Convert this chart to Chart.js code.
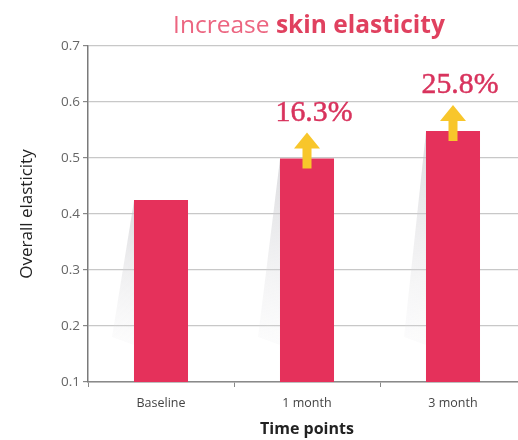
<!DOCTYPE html>
<html>
<head>
<meta charset="utf-8">
<script src="https://cdn.jsdelivr.net/npm/chart.js@4.4.1/dist/chart.umd.min.js"></script>
<style>
  html, body { margin: 0; padding: 0; background: #fff; overflow: hidden; }
  #wrap { width: 518px; height: 440px; position: relative; overflow: hidden; }
  #c { position: absolute; left: 0; top: 0; }
</style>
</head>
<body>
<div id="wrap"><canvas id="c" width="526" height="440"></canvas></div>
<script>
// ---- data ----
const categories = ["Baseline", "1 month", "3 month"];
const elasticity = [0.425, 0.499, 0.548];
const increaseLabels = [null, "16.3%", "25.8%"];
const yTicks = [0.1, 0.2, 0.3, 0.4, 0.5, 0.6, 0.7];
const titleNormal = "Increase ";
const titleBold = "skin elasticity";
const yTitle = "Overall elasticity";
const xTitle = "Time points";

const BAR = "#e5315b";
const FONT = "'Open Sans', 'Noto Sans', sans-serif";
const SERIF = "'Liberation Serif', 'DejaVu Serif', serif";

const decorPlugin = {
  id: "decor",
  beforeDatasetsDraw(chart) {
    const ctx = chart.ctx;
    const meta = chart.getDatasetMeta(0);
    const bottom = chart.chartArea.bottom;
    ctx.save();
    meta.data.forEach(bar => {
      const left = bar.x - bar.width / 2;
      const top = bar.y;
      const endY = bottom - 45;
      const g = ctx.createLinearGradient(left, top, left - 22, endY);
      g.addColorStop(0, "rgba(195,195,200,0.6)");
      g.addColorStop(1, "rgba(225,225,228,0.12)");
      ctx.fillStyle = g;
      ctx.beginPath();
      ctx.moveTo(left, top + 1);
      ctx.lineTo(left - 22, endY);
      ctx.lineTo(left, endY + 8);
      ctx.closePath();
      ctx.fill();
    });
    ctx.restore();
  },
  afterDatasetsDraw(chart) {
    const ctx = chart.ctx;
    const meta = chart.getDatasetMeta(0);
    ctx.save();
    // size the percentage font to the width seen in the picture (~77px for "16.3%")
    ctx.font = `26px ${SERIF}`;
    const ref = ctx.measureText("16.3%").width;
    const pSize = Math.min(30, 26 * 77 / ref);
    meta.data.forEach((bar, i) => {
      const lab = increaseLabels[i];
      if (!lab) return;
      const cx = bar.x;
      const top = bar.y;
      // arrow
      ctx.fillStyle = "#f8c62b";
      ctx.beginPath();
      ctx.moveTo(cx, top - 26);
      ctx.lineTo(cx + 13, top - 10);
      ctx.lineTo(cx + 4.5, top - 10);
      ctx.lineTo(cx + 4.5, top + 10);
      ctx.lineTo(cx - 4.5, top + 10);
      ctx.lineTo(cx - 4.5, top - 10);
      ctx.lineTo(cx - 13, top - 10);
      ctx.closePath();
      ctx.fill();
      // label
      ctx.fillStyle = "#d8335d";
      ctx.strokeStyle = "#d8335d";
      ctx.lineWidth = 0.5;
      ctx.font = `${pSize}px ${SERIF}`;
      ctx.textAlign = "center";
      ctx.textBaseline = "alphabetic";
      ctx.fillText(lab, cx + 7, top - 38);
      ctx.strokeText(lab, cx + 7, top - 38);
    });
    ctx.restore();
  },
  afterDraw(chart) {
    const ctx = chart.ctx;
    ctx.save();
    const targetW = 272;
    let size = 22;
    ctx.font = `400 ${size}px ${FONT}`;
    let w1 = ctx.measureText(titleNormal).width;
    ctx.font = `700 ${size}px ${FONT}`;
    let w2 = ctx.measureText(titleBold).width;
    size = size * targetW / (w1 + w2);
    ctx.font = `400 ${size}px ${FONT}`;
    w1 = ctx.measureText(titleNormal).width;
    ctx.font = `700 ${size}px ${FONT}`;
    w2 = ctx.measureText(titleBold).width;
    const x0 = 309 - (w1 + w2) / 2;
    ctx.textBaseline = "alphabetic";
    ctx.textAlign = "left";
    ctx.font = `400 ${size}px ${FONT}`;
    ctx.fillStyle = "#ec6580";
    ctx.fillText(titleNormal, x0, 33);
    ctx.font = `700 ${size}px ${FONT}`;
    ctx.fillStyle = "#e0415f";
    ctx.fillText(titleBold, x0 + w1, 33);
    ctx.restore();
  }
};

new Chart(document.getElementById("c"), {
  type: "bar",
  data: {
    labels: categories,
    datasets: [{
      data: elasticity,
      backgroundColor: BAR,
      borderWidth: 0,
      barPercentage: 0.37,
      categoryPercentage: 1.0
    }]
  },
  options: {
    responsive: false,
    animation: false,
    devicePixelRatio: 1,
    layout: { padding: { top: 46, right: 0, left: 0, bottom: 0 } },
    plugins: { legend: { display: false }, tooltip: { enabled: false } },
    scales: {
      x: {
        offset: true,
        grid: { display: true, drawOnChartArea: false, drawTicks: true, tickLength: 5, color: "#888", lineWidth: 1 },
        border: { display: true, color: "#8a8a8a", width: 1.5 },
        ticks: { color: "#444", font: { family: FONT, size: 12.5 }, padding: 9 },
        title: { display: true, text: xTitle, color: "#222", font: { family: FONT, size: 16, weight: "bold" }, padding: { top: 2, bottom: 1 } },
        afterFit(s) { s.height = 58; }
      },
      y: {
        min: 0.1,
        max: 0.7,
        afterBuildTicks(s) { s.ticks = yTicks.map(v => ({ value: v })); },
        grid: { color: "#c8c8c8", lineWidth: 1.2, tickLength: 5, tickColor: "#888" },
        border: { display: true, color: "#7a7a7a", width: 1.5 },
        ticks: { color: "#666", font: { family: FONT, size: 13.5 }, padding: 3, callback: v => v.toFixed(1) },
        title: { display: true, text: yTitle, color: "#222", font: { family: FONT, size: 17 }, padding: { top: 17, bottom: 0 } },
        afterFit(s) { s.width = 88; }
      }
    }
  },
  plugins: [decorPlugin]
});
</script>
</body>
</html>
